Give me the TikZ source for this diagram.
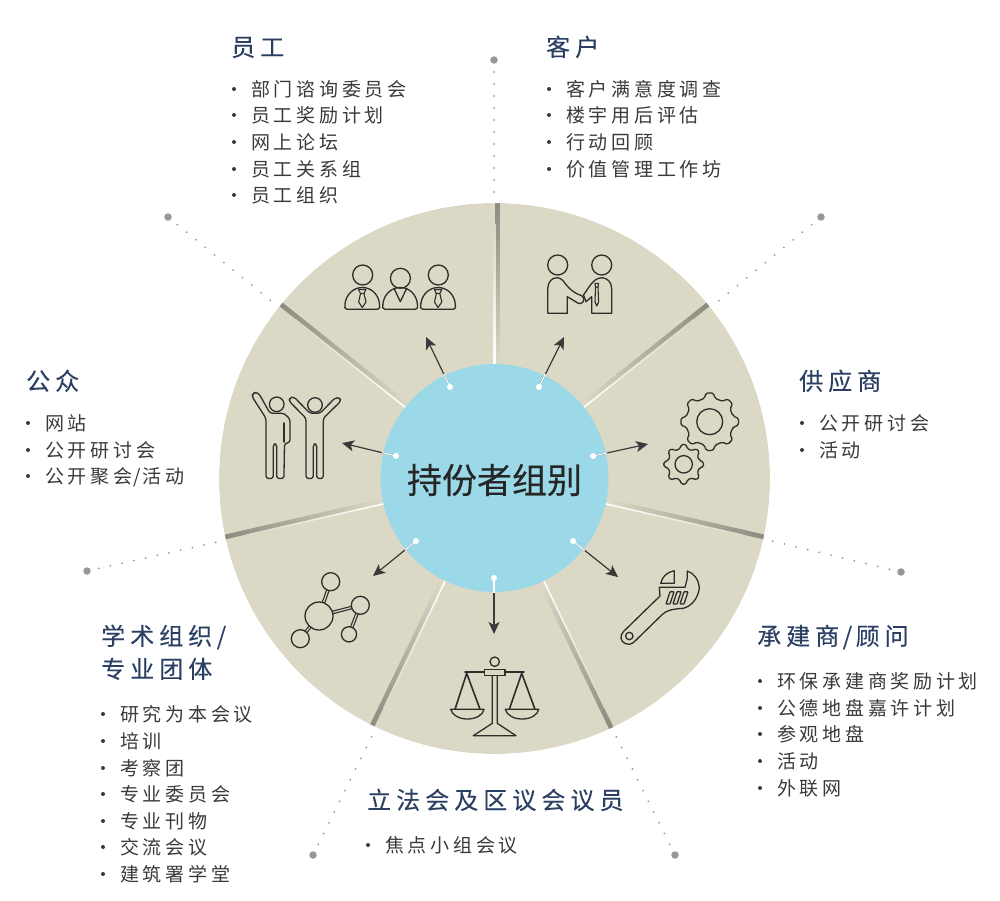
\documentclass[tikz,border=0pt]{standalone}
\usepackage{fontspec}
\usetikzlibrary{arrows.meta,calc}
\setmainfont{Noto Sans CJK SC}
\newfontfamily\headfont[LetterSpace=21,FakeBold=0.15]{Noto Sans CJK SC}
\newfontfamily\itemfont[LetterSpace=19.5]{Noto Sans CJK SC}
\newfontfamily\centerfont[FakeBold=0.3]{Noto Sans CJK SC}
\definecolor{sector}{HTML}{DBD8C5}
\definecolor{hub}{HTML}{9BD8E8}
\definecolor{navy}{HTML}{2B3F63}
\definecolor{ink}{HTML}{3A3A3C}
\definecolor{icon}{HTML}{2E2D2B}
\definecolor{divgray}{HTML}{85847A}
\definecolor{dotgray}{HTML}{97979A}
\tikzset{
  x=1pt,y=-1pt,
  head/.style={anchor=base west,inner sep=0pt,text=navy,font=\headfont\fontsize{24}{24}\selectfont},
  item/.style={anchor=base west,inner sep=0pt,text=ink,font=\itemfont\fontsize{19}{19}\selectfont},
  bull/.style={circle,fill=ink,inner sep=0pt,minimum size=4pt},
  enddot/.style={circle,fill=dotgray,inner sep=0pt,minimum size=7.5pt},
  leader/.style={draw=dotgray,line width=2pt,line cap=round,dash pattern=on 0pt off 12pt},
  hubdot/.style={circle,fill=white,inner sep=0pt,minimum size=6pt},
  arrowline/.style={draw=ink,line width=1.2pt,-{Stealth[length=12pt,width=11pt,inset=3pt]}},
  ico/.style={draw=icon,line width=1.3pt,line join=round,line cap=round},
}
% divider: angle, gray band offset
\newcommand{\divider}[2]{%
  \begin{scope}[transform canvas={shift={(494.5pt,-478.5pt)},rotate=#1}]
    \shade[left color=sector,right color=divgray,draw=none]
      (115pt,#2pt-2.4pt) rectangle (290pt,#2pt+2.4pt);
    \shade[left color=white,middle color=white,right color=sector,draw=none]
      (114pt,-0.8pt) rectangle (255pt,0.8pt);
  \end{scope}}
\newcommand{\itemline}[3]{\node[bull] at (#1-17,#2-7) {}; \node[item] at (#1,#2) {#3};}
\newcommand{\gearpath}[3]{% centre, tip radius, root radius
  \begin{scope}[shift={#1}]
  \draw[ico,rounded corners=1.6pt] (-13:#3)
    \foreach \a in {0,45,...,315}{ -- ($(\a-13:#3)$) -- ($(\a-7:#2)$) -- ($(\a+7:#2)$) -- ($(\a+13:#3)$) } -- cycle;
  \end{scope}}
\begin{document}
\begin{tikzpicture}
\useasboundingbox (0,0) rectangle (1000,900);
% disc
\node[circle,fill=sector,minimum size=551pt,inner sep=0pt] (disc) at (494.5,478.5) {};
% dividers
\divider{90}{-3}
\divider{38.57}{3}
\divider{-12.86}{3}
\divider{-64.29}{-3}
\divider{-115.71}{-3}
\divider{192.86}{-3}
\divider{141.43}{-3}
% the bands stop at the rim
\draw[white,line width=24pt] (494.5,478.5) circle (287.5);
% hub
\node[circle,fill=hub,minimum size=228pt,inner sep=0pt] (hub) at (494.5,478) {};
\node[font=\centerfont\fontsize{35}{35}\selectfont,text=black!85,inner sep=0pt] (title) at (494.5,480) {持份者组别};
% leaders
\foreach \n/\dx/\dy/\rx/\ry in {a/494/60/494/195,b/821/217/715/304,c/901/572/772/541,d/675/855/614/732,e/313/855/374/732,f/87/571/222/541,g/168/217/275/304}{
  \node[enddot] (end\n) at (\dx,\dy) {};
  \coordinate (rim\n) at (\rx,\ry);
  \draw[leader] (end\n.center) -- (rim\n);
}
% arrows
\foreach \n/\sx/\sy/\tx/\ty in {a/450/387/426/337,b/539/387/564/337,c/593/456/648/444,d/573/541/618/577,e/494/578/494/634,f/416/541/373/576,g/396/456/342/443}{
  \node[hubdot] (hd\n) at (\sx,\sy) {};
  \coordinate (tip\n) at (\tx,\ty);
  \draw[arrowline] (hd\n) -- (tip\n);
  \draw[white,line width=1.2pt] (hd\n.center) -- ($(hd\n.center)!0.26!(tip\n)$);
}
% icon: staff
\foreach \sx/\sy in {0/0,37.7/3.3,75.6/0}{
\begin{scope}[shift={(\sx,0)}]
  \draw[ico] (362.7,275+\sy) circle (10);
\end{scope}}
\foreach \sx in {0,37.9,75.8}{
\begin{scope}[shift={(\sx,0)}]
  \draw[ico] (347,309.3) .. controls (344.5,309.3) and (344.5,307) .. (345,304) .. controls (346,294) and (354,287.5) .. (362.3,287.5) .. controls (371,287.5) and (378.5,294) .. (379.5,304) .. controls (380,307) and (380,309.3) .. (377.5,309.3) -- cycle;
\end{scope}}
\foreach \sx in {0,75.8}{
\begin{scope}[shift={(\sx,0)}]
  \draw[ico,line width=1.1pt] (358.5,289.5) -- (366,289.5) -- (364,293.5) -- (360.5,293.5) -- cycle;
  \draw[ico,line width=1.1pt] (360.5,293.5) -- (358.7,302) -- (362.2,307.5) -- (366,302) -- (364,293.5);
\end{scope}}
\draw[ico] (394,288.3) -- (400.3,301.7) -- (406.7,288.3);
% icon: handshake
\draw[ico] (557.7,265) circle (10);
\draw[ico] (601.7,265) circle (10);
\draw[ico] (547.7,313.3) -- (547.7,289) .. controls (547.7,282) and (552,277.7) .. (556.7,277.7) .. controls (560,277.7) and (563,280) .. (565,283.3) .. controls (570,290) and (576,294) .. (581.7,295.7) .. controls (584,297) and (584.5,300) .. (583.3,301.7) .. controls (582,303.5) and (580,304) .. (578.3,303.3) -- (567.3,296.7) -- (567.3,313.3) -- cycle;
\draw[ico] (591.7,313.3) -- (591.7,296.7) -- (586,301.7) -- (583.5,295) .. controls (587,290) and (590,285) .. (593.3,281.7) .. controls (596,279) and (599,277.7) .. (601.7,277.7) .. controls (607,277.7) and (611.7,282) .. (611.7,289) -- (611.7,313.3) -- cycle;
\draw[ico,line width=1.1pt] (595,283.3) -- (598.5,283.3) -- (598,287) -- (595.5,287) -- cycle;
\draw[ico,line width=1.1pt] (595.5,287) -- (595,302) -- (596.8,306) -- (598.6,302) -- (598,287);
% icon: public
\draw[ico] (276.7,404.3) circle (7.3);
\draw[ico] (315,405) circle (7.3);
\draw[ico,rounded corners=2.6pt] (253,393.5) -- (256,392) -- (259.5,394.5) -- (270,413.3) -- (284,413.3) -- (290,419) -- (290,442.5) -- (284.5,443.5) -- (284,473.5) -- (284,478.5) -- (276.7,478.5) -- (276.7,444) -- (273.3,444) -- (273.3,478.5) -- (266,478.5) -- (266,418.3) -- (252,396.5) -- cycle;
\draw[ico,line width=1.8pt] (284,423) -- (284,442);
\draw[ico,rounded corners=2.6pt] (289,401) -- (290,397.5) -- (294,397) -- (310,413.3) -- (320,413.3) -- (335,398) -- (339.5,397.5) -- (341,401) -- (323.3,418.3) -- (323.3,478.5) -- (316.7,478.5) -- (316.7,444) -- (313.3,444) -- (313.3,478.5) -- (306,478.5) -- (306,418.3) -- cycle;
% icon: gears
\draw[ico] (709.7,421.7) circle (13);
\gearpath{(709.7,421.7)}{29}{24}
\draw[ico] (683.7,464.3) circle (8.7);
\gearpath{(683.7,464.3)}{20}{16}
% icon: wrench
\draw[ico] (629.3,636) circle (3.7);
\draw[ico] (660,596) -- (623.3,631.7) .. controls (619.5,636) and (620.5,641) .. (625,643.5) .. controls (628,645) and (631,644.5) .. (633.3,642.7) -- (661.7,615) .. controls (666,610.5) and (672,609) .. (683.3,608.3) .. controls (692,606) and (698,598) .. (699.3,588.3) .. controls (699,580) and (694,573) .. (687.3,571) -- (687.3,578.3) -- (685,587.3) -- (659.3,587.3) -- cycle;
\draw[ico] (674.3,570.7) .. controls (667,572) and (662,577) .. (660.7,583.3) -- (674.3,583.3) -- cycle;
\foreach \o in {0,7,14}{
  \draw[ico,rounded corners=0.6pt] (670+\o,591.7) -- (674+\o,591.7) -- (670+\o,604) -- (666+\o,604) -- cycle;
}
% icon: scales
\draw[ico] (494.7,661.7) circle (4.7);
\draw[ico,line width=1.8pt] (465,671.7) -- (524,671.7);
\draw[ico] (492.3,675.3) -- (492.3,723.3) -- (473.3,735.7) -- (516,735.7) -- (497.3,723.3) -- (497.3,675.3);
\draw[ico,fill=sector] (484.3,669.3) rectangle (505,675.3);
\draw[ico,line width=1.6pt] (455,709.3) -- (466.7,673.3) -- (480,709.3);
\draw[ico,line width=1.6pt] (509.3,709.3) -- (521.7,673.3) -- (535,709.3);
\draw[ico] (450.7,709.3) -- (484,709.3) .. controls (483,715) and (476,719) .. (467.3,719) .. controls (459,719) and (452,715) .. (450.7,709.3) -- cycle;
\draw[ico] (505.3,709.3) -- (538.7,709.3) .. controls (537.7,715) and (530.7,719) .. (522,719) .. controls (513.7,719) and (506.7,715) .. (505.3,709.3) -- cycle;
% icon: molecule
\draw[icon,line width=3.6pt] (319,616) -- (330.7,581.7) (319,616) -- (360.3,605.3) (319,616) -- (300.3,638.7) (360.3,605.3) -- (349,634.3);
\draw[sector,line width=1.2pt] (319,616) -- (330.7,581.7) (319,616) -- (360.3,605.3) (319,616) -- (300.3,638.7) (360.3,605.3) -- (349,634.3);
\draw[ico,fill=sector] (319,616) circle (14);
\draw[ico,fill=sector] (330.7,581.7) circle (9);
\draw[ico,fill=sector] (360.3,605.3) circle (9);
\draw[ico,fill=sector] (300.3,638.7) circle (9);
\draw[ico,fill=sector] (349,634.3) circle (7.6);
% texts
\node[head] at (231,56) {员工};
\itemline{251}{96}{部门谘询委员会}
\itemline{251}{122}{员工奖励计划}
\itemline{251}{149}{网上论坛}
\itemline{251}{176}{员工关系组}
\itemline{251}{202}{员工组织}
\node[head] at (546,56) {客户};
\itemline{566}{96}{客户满意度调查}
\itemline{566}{122}{楼宇用后评估}
\itemline{566}{149}{行动回顾}
\itemline{566}{176}{价值管理工作坊}
\node[head] at (799,390) {供应商};
\itemline{819}{430}{公开研讨会}
\itemline{819}{457}{活动}
\node[head] at (757,645) {承建商\kern3.5pt/\kern3.5pt顾问};
\itemline{777}{688}{环保承建商奖励计划}
\itemline{777}{715}{公德地盘嘉许计划}
\itemline{777}{741}{参观地盘}
\itemline{777}{768}{活动}
\itemline{777}{795}{外联网}
\node[head] at (367,809) {立法会及区议会议员};
\itemline{385}{852}{焦点小组会议}
\node[head] at (101,645) {学术组织\kern4.5pt/};
\node[head] at (101,678) {专业团体};
\itemline{120}{721}{研究为本会议}
\itemline{120}{748}{培训}
\itemline{120}{775}{考察团}
\itemline{120}{801}{专业委员会}
\itemline{120}{828}{专业刊物}
\itemline{120}{854}{交流会议}
\itemline{120}{881}{建筑署学堂}
\node[head] at (26,390) {公众};
\itemline{45}{430}{网站}
\itemline{45}{457}{公开研讨会}
\itemline{45}{483}{公开聚会\kern1.5pt/\kern1.5pt活动}
\end{tikzpicture}
\end{document}
